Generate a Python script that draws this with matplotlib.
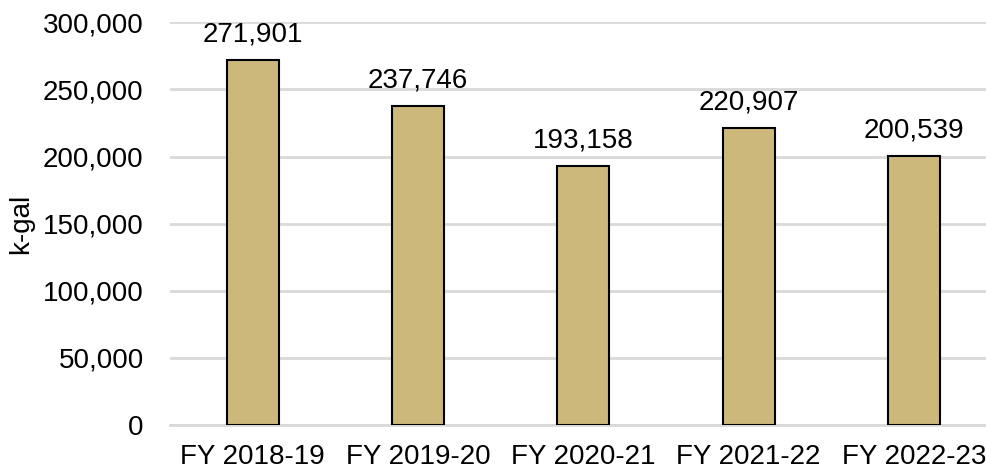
import matplotlib
matplotlib.use("Agg")
import matplotlib.pyplot as plt

years = ["FY 2018-19", "FY 2019-20", "FY 2020-21", "FY 2021-22", "FY 2022-23"]
kgal = [271901, 237746, 193158, 220907, 200539]
yticks = [0, 50000, 100000, 150000, 200000, 250000, 300000]

plt.rcParams["font.family"] = ["Liberation Sans", "DejaVu Sans"]
FS = 20

W, H = 986, 474
fig = plt.figure(figsize=(W / 100, H / 100), dpi=100)
ax = fig.add_axes([170 / W, 1 - 425 / H, 826.6 / W, (425 - 22.3) / H])

x = list(range(len(years)))
ax.bar(x, kgal, width=0.315, color="#CDB87B", edgecolor="black", linewidth=1.5, zorder=3)
for xi, v in zip(x, kgal):
    ax.annotate(f"{v:,}", (xi, v), xytext=(0, 9), textcoords="offset points",
                ha="center", va="bottom", fontsize=FS, color="black")

ax.set_xlim(-0.5, 4.5)
ax.set_ylim(0, 300000)
ax.set_yticks(yticks)
ax.set_yticklabels([f"{t:,}" for t in yticks], fontsize=FS)
ax.set_xticks(x)
ax.set_xticklabels(years, fontsize=FS)
ax.tick_params(axis="y", length=0, pad=19)
ax.tick_params(axis="x", length=0, pad=14)
ax.grid(axis="y", color="#d9d9d9", linewidth=2, zorder=0)
for s in ["top", "right", "left"]:
    ax.spines[s].set_visible(False)
ax.spines["bottom"].set_color("#d9d9d9")
ax.spines["bottom"].set_linewidth(2)
ax.set_ylabel("k-gal", fontsize=FS, labelpad=6)

fig.savefig("out.png", dpi=100)
